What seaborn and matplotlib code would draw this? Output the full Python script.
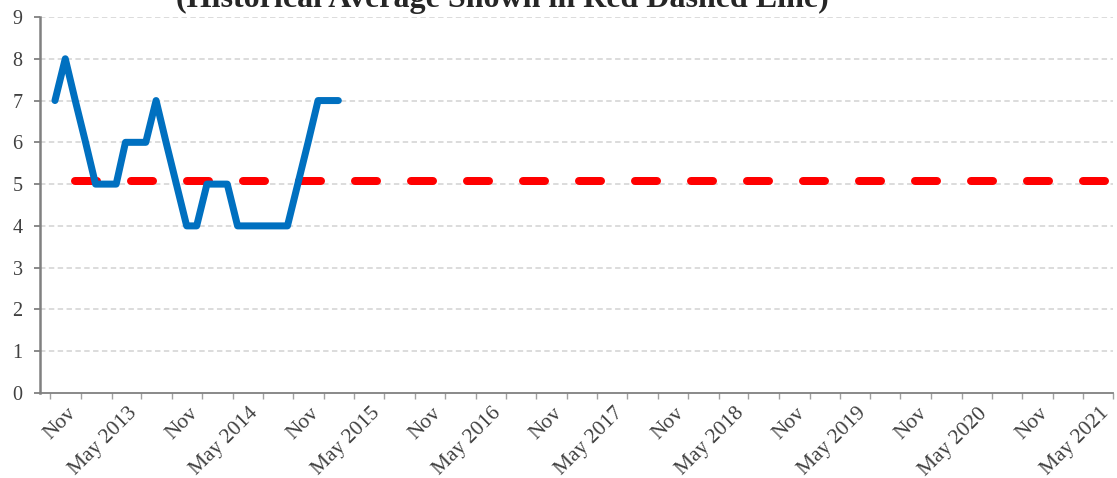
import numpy as np
import pandas as pd
import matplotlib
matplotlib.use("Agg")
import matplotlib.pyplot as plt
import matplotlib.transforms as mtransforms
import seaborn as sns

# ---- data ----
months = pd.date_range("2012-08-01", "2014-12-01", freq="MS")
values = [7, 8, 7, 6, 5, 5, 5, 6, 6, 6, 7, 6, 5, 4, 4, 5, 5, 5, 4, 4, 4, 4, 4, 4, 5, 6, 7, 7, 7]
avg_months = pd.date_range("2012-10-01", "2021-04-01", freq="MS")
avg_value = 5.07
title_text = "(Historical Average Shown in Red Dashed Line)"
yticks = list(range(0, 10))
tick_dates = pd.date_range("2012-08-01", "2021-05-01", freq="3MS")
x_start = pd.Timestamp("2012-07-01")
x_end = pd.Timestamp("2021-05-01")


def tick_label(d):
    if d.month == 11:
        return "Nov"
    if d.month == 5:
        return f"May {d.year}"
    return ""


tick_labels = [tick_label(d) for d in tick_dates]

# ---- frames (mid-month positions) ----
df = pd.DataFrame({"date": months + pd.Timedelta(days=14), "value": values})
df_avg = pd.DataFrame({"date": avg_months + pd.Timedelta(days=14),
                       "value": [avg_value] * len(avg_months)})

sns.set_theme(style="white")
plt.rcParams["font.family"] = ["Liberation Serif", "DejaVu Serif"]

fig = plt.figure(figsize=(11.17, 4.78), dpi=100)
ax = fig.add_axes([40 / 1117, 1 - 393 / 478, (1113 - 40) / 1117, (393 - 17) / 478])

# gridlines
for y in yticks[1:]:
    ax.axhline(y, color="#D9D9D9", lw=1.3, linestyle=(0, (3, 1.9)), zorder=0)

lw_red = 8 * 72 / 100
sns.lineplot(data=df_avg, x="date", y="value", ax=ax, color="#FF0000",
             lw=lw_red, zorder=2)
red = ax.lines[-1]
red.set_linestyle((0, (2.75, 4.25)))
red.set_dash_capstyle("round")

sns.lineplot(data=df, x="date", y="value", ax=ax, color="#0070C0",
             lw=7 * 72 / 100, zorder=3)
blue = ax.lines[-1]
blue.set_solid_capstyle("round")
blue.set_solid_joinstyle("round")

ax.set_xlim(x_start, x_end)
ax.set_ylim(0, 9)
ax.set_yticks(yticks)
ax.set_yticklabels([str(v) for v in yticks])
ax.set_xlabel("")
ax.set_ylabel("")

for s in ["top", "right"]:
    ax.spines[s].set_visible(False)
ax.spines["left"].set_color("#808080")
ax.spines["left"].set_linewidth(1.8)
ax.spines["bottom"].set_color("#808080")
ax.spines["bottom"].set_linewidth(1.3)
ax.tick_params(axis="y", direction="out", length=4.5, width=1.3, color="#808080",
               labelsize=14.5, labelcolor="#404040", pad=8, left=True)
ax.tick_params(axis="x", direction="out", length=4, width=1.0, color="#A0A0A0",
               labelsize=15.5, labelcolor="#404040", pad=8, bottom=True)

ax.set_xticks(tick_dates)
ax.set_xticklabels(tick_labels, rotation=45, ha="right", va="center",
                   rotation_mode="anchor")
shift = mtransforms.ScaledTranslation(-7 / 100, -1 / 100, fig.dpi_scale_trans)
for tick in ax.xaxis.get_major_ticks():
    tick.label1.set_transform(tick.label1.get_transform() + shift)

fig.text(502 / 1117, 1 - 6.5 / 478, title_text, ha="center", va="baseline",
         fontsize=23, fontweight="bold", color="#262626")

fig.savefig("out.png", dpi=100)
